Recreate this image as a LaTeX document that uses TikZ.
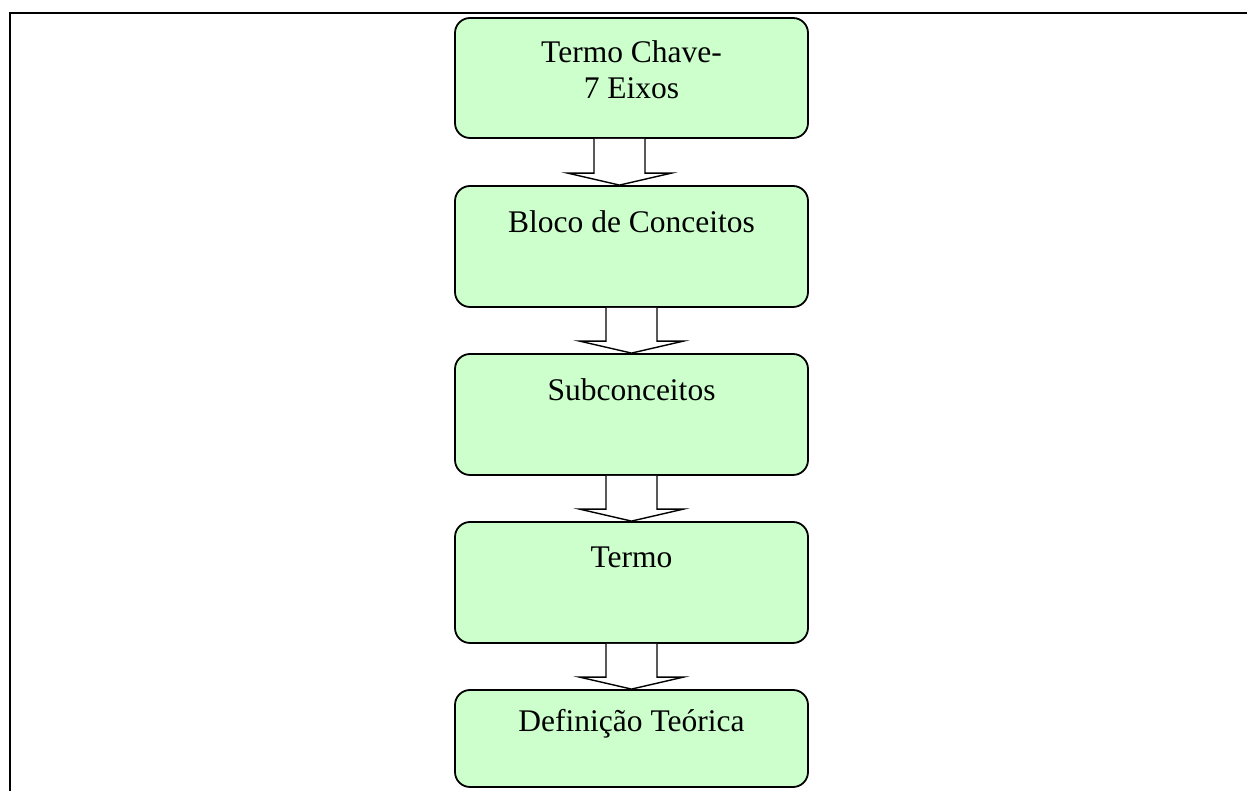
\documentclass[tikz,border=0pt]{standalone}
\usepackage{fontspec}
\setmainfont{Liberation Serif}
\usetikzlibrary{calc}

\tikzset{
  stage/.style={draw=black, line width=1.8pt, fill=stagegreen, rounded corners=15pt,
    minimum width=353pt, inner sep=0pt},
  caption/.style={anchor=base, inner sep=0pt, font=\fontsize{31.5}{36}\selectfont},
  hollowarrow/.style={draw=black, line width=1.4pt, fill=white, line join=miter},
  frame/.style={line width=2pt}
}
\definecolor{stagegreen}{HTML}{CCFFCC}

% hollow block arrow from the bottom of #1 to the top of #2, shifted by #3 horizontally
\newcommand{\flowarrow}[3]{%
  \draw[hollowarrow] let \p1=(#1.south), \p2=(#2.north) in
    (\x2+#3-25.5pt,\y1) -- (\x2+#3-25.5pt,\y2+12pt) -- (\x2+#3-52pt,\y2+12pt)
    -- (\x2+#3,\y2) -- (\x2+#3+52pt,\y2+12pt) -- (\x2+#3+25.5pt,\y2+12pt)
    -- (\x2+#3+25.5pt,\y1);}

\begin{document}
\begin{tikzpicture}[x=1pt,y=1pt]
  \useasboundingbox (0,0) rectangle (1247,791);

  % open page frame: top rule and left rule only
  \coordinate (frameTL) at (10,778);
  \coordinate (frameTR) at (1247,778);
  \coordinate (frameBL) at (10,0);
  \draw[frame] (frameTR) -- (frameTL) -- (frameBL);

  % stages of the flow
  \node[stage, minimum height=120pt] (key)   at (631.5,713)   {};
  \node[stage, minimum height=121pt] (block) at (631.5,544.5) {};
  \node[stage, minimum height=121pt] (sub)   at (631.5,376.5) {};
  \node[stage, minimum height=121pt] (term)  at (631.5,208.5) {};
  \node[stage, minimum height=97pt]  (defn)  at (631.5,52.5)  {};

  % captions
  \node[caption] (keyA)   at ($(key.north)+(0,-45)$)   {Termo Chave-};
  \node[caption] (keyB)   at ($(key.north)+(0,-81)$)   {7 Eixos};
  \node[caption] (blockT) at ($(block.north)+(0,-47)$) {Bloco de Conceitos};
  \node[caption] (subT)   at ($(sub.north)+(0,-47)$)   {Subconceitos};
  \node[caption] (termT)  at ($(term.north)+(0,-46)$)  {Termo};
  \node[caption] (defnT)  at ($(defn.north)+(0,-42)$)  {Definição Teórica};

  % arrows between stages
  \flowarrow{key}{block}{-12pt}
  \flowarrow{block}{sub}{0pt}
  \flowarrow{sub}{term}{0pt}
  \flowarrow{term}{defn}{0pt}
\end{tikzpicture}
\end{document}
